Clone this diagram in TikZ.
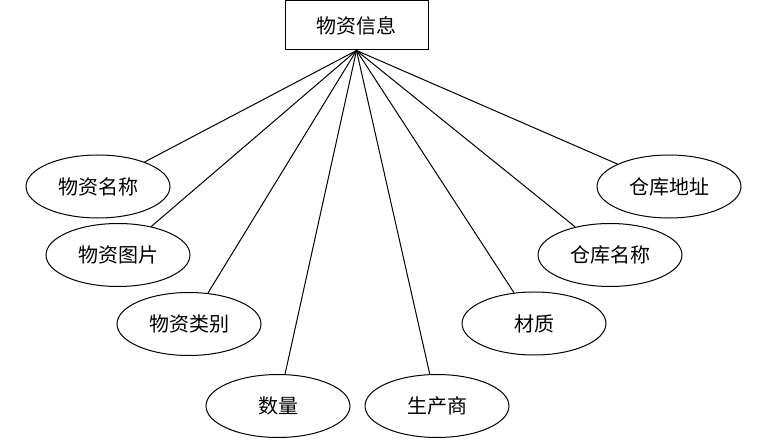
\documentclass[tikz,border=0pt]{standalone}
\usepackage{fontspec}
\usepackage{tikz}
\usetikzlibrary{shapes.geometric,positioning}
\setmainfont{Noto Sans CJK SC}
\tikzset{
  entitynode/.style={draw,line width=0.5pt,minimum width=71.5pt,minimum height=24.5pt,inner sep=0pt,align=center,font=\fontsize{10pt}{12pt}\selectfont},
  attrnode/.style={draw,ellipse,line width=0.5pt,minimum width=72pt,minimum height=31.5pt,inner sep=0pt,align=center,font=\fontsize{10pt}{12pt}\selectfont},
  link/.style={line width=0.5pt}
}
\begin{document}
\begin{tikzpicture}[x=0.5pt,y=-0.5pt]
  \useasboundingbox (0,0) rectangle (766,448);
  \node[entitynode] (info) at (356.5,25.5) {物资信息};

  \node[attrnode] (name) at (98,186.5) {物资名称};
  \node[attrnode] (pic) at (118,255) {物资图片};
  \node[attrnode] (kind) at (189,324) {物资类别};
  \node[attrnode] (num) at (278,406) {数量};
  \node[attrnode] (maker) at (437,406) {生产商};
  \node[attrnode] (mat) at (534,323.5) {材质};
  \node[attrnode] (store) at (610,255) {仓库名称};
  \node[attrnode] (addr) at (669,186.5) {仓库地址};

  \draw[link] (info.south) -- (name);
  \draw[link] (info.south) -- (pic);
  \draw[link] (info.south) -- (kind);
  \draw[link] (info.south) -- (num);
  \draw[link] (info.south) -- (maker);
  \draw[link] (info.south) -- (mat);
  \draw[link] (info.south) -- (store);
  \draw[link] (info.south) -- (addr);
\end{tikzpicture}
\end{document}
